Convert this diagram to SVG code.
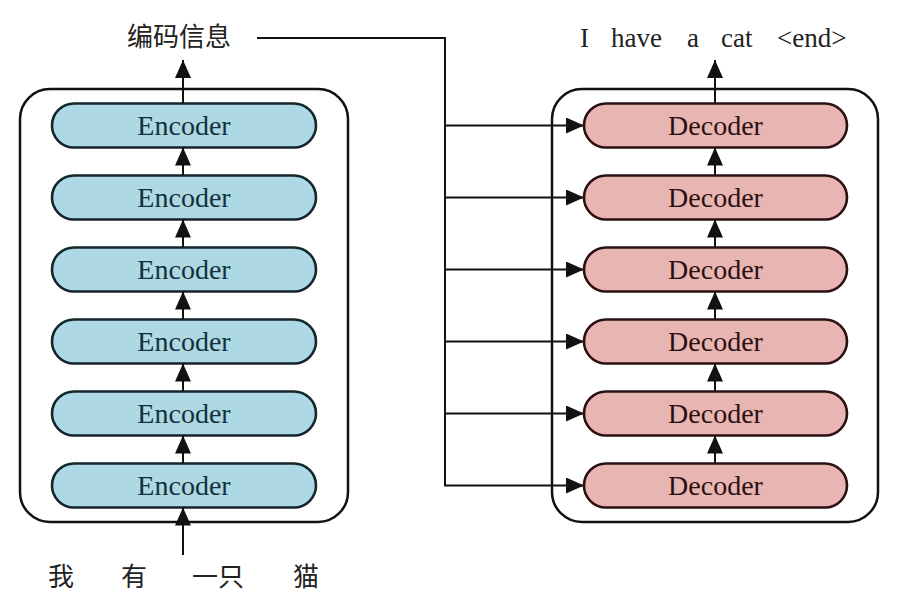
<svg xmlns="http://www.w3.org/2000/svg" width="904" height="605" viewBox="0 0 904 605">
<style>
.frame{fill:#fff;stroke:#111;stroke-width:2.5}
.enc{fill:#add8e4;stroke:#15252b;stroke-width:2.6}
.dec{fill:#e8b5b3;stroke:#2a1212;stroke-width:2.6}
.lbl{font-family:"Liberation Serif","Times New Roman",serif;font-size:28px;text-anchor:middle}
.et{fill:#12313a}
.dt{fill:#2a1010}
.cjk{font-family:"Noto Sans CJK SC","Noto Sans",sans-serif;font-size:26px;fill:#222}
.en{font-family:"Liberation Serif","Times New Roman",serif;font-size:27px;fill:#222}
.ln{fill:none;stroke:#111;stroke-width:2}
</style>
<defs>
<marker id="ah" markerUnits="userSpaceOnUse" markerWidth="20" markerHeight="16" viewBox="0 0 18 16" refX="18" refY="8" orient="auto">
<path d="M0,0 L18,8 L0,16 Z" fill="#111"/>
</marker>
</defs>
<rect width="904" height="605" fill="#fff"/>
<g id="encoder-stack">
<rect class="frame" x="20" y="89" width="328" height="433" rx="30"/>
</g>
<g id="decoder-stack">
<rect class="frame" x="552" y="89" width="326" height="433" rx="30"/>
</g>
<g id="encoders">
<g id="enc1"><rect class="enc" x="52" y="103.5" width="264" height="44" rx="22"/><text class="lbl et" x="184" y="134.5">Encoder</text></g>
<g id="enc2"><rect class="enc" x="52" y="175.5" width="264" height="44" rx="22"/><text class="lbl et" x="184" y="206.5">Encoder</text></g>
<g id="enc3"><rect class="enc" x="52" y="247.5" width="264" height="44" rx="22"/><text class="lbl et" x="184" y="278.5">Encoder</text></g>
<g id="enc4"><rect class="enc" x="52" y="319.5" width="264" height="44" rx="22"/><text class="lbl et" x="184" y="350.5">Encoder</text></g>
<g id="enc5"><rect class="enc" x="52" y="391.5" width="264" height="44" rx="22"/><text class="lbl et" x="184" y="422.5">Encoder</text></g>
<g id="enc6"><rect class="enc" x="52" y="463.5" width="264" height="44" rx="22"/><text class="lbl et" x="184" y="494.5">Encoder</text></g>
</g>
<g id="decoders">
<g id="dec1"><rect class="dec" x="584" y="103.5" width="263" height="44" rx="22"/><text class="lbl dt" x="715.5" y="134.5">Decoder</text></g>
<g id="dec2"><rect class="dec" x="584" y="175.5" width="263" height="44" rx="22"/><text class="lbl dt" x="715.5" y="206.5">Decoder</text></g>
<g id="dec3"><rect class="dec" x="584" y="247.5" width="263" height="44" rx="22"/><text class="lbl dt" x="715.5" y="278.5">Decoder</text></g>
<g id="dec4"><rect class="dec" x="584" y="319.5" width="263" height="44" rx="22"/><text class="lbl dt" x="715.5" y="350.5">Decoder</text></g>
<g id="dec5"><rect class="dec" x="584" y="391.5" width="263" height="44" rx="22"/><text class="lbl dt" x="715.5" y="422.5">Decoder</text></g>
<g id="dec6"><rect class="dec" x="584" y="463.5" width="263" height="44" rx="22"/><text class="lbl dt" x="715.5" y="494.5">Decoder</text></g>
</g>
<g id="labels">
<text id="enc-info" class="cjk" x="127" y="46">编码信息</text>
<text id="output" class="en" y="47"><tspan x="580">I</tspan><tspan x="611">have</tspan><tspan x="687">a</tspan><tspan x="721">cat</tspan><tspan x="777">&lt;end&gt;</tspan></text>
<text id="input" class="cjk" y="586"><tspan x="48">我</tspan><tspan x="121">有</tspan><tspan x="192">一只</tspan><tspan x="293">猫</tspan></text>
</g>
<g id="connectors">
<line class="ln" x1="183" y1="103.5" x2="183" y2="60" marker-end="url(#ah)"/>
<line class="ln" x1="183" y1="175.5" x2="183" y2="147.5" marker-end="url(#ah)"/>
<line class="ln" x1="183" y1="247.5" x2="183" y2="219.5" marker-end="url(#ah)"/>
<line class="ln" x1="183" y1="319.5" x2="183" y2="291.5" marker-end="url(#ah)"/>
<line class="ln" x1="183" y1="391.5" x2="183" y2="363.5" marker-end="url(#ah)"/>
<line class="ln" x1="183" y1="463.5" x2="183" y2="435.5" marker-end="url(#ah)"/>
<line class="ln" x1="183" y1="555" x2="183" y2="507.5" marker-end="url(#ah)"/>
<line class="ln" x1="715" y1="103.5" x2="715" y2="60" marker-end="url(#ah)"/>
<line class="ln" x1="715" y1="175.5" x2="715" y2="147.5" marker-end="url(#ah)"/>
<line class="ln" x1="715" y1="247.5" x2="715" y2="219.5" marker-end="url(#ah)"/>
<line class="ln" x1="715" y1="319.5" x2="715" y2="291.5" marker-end="url(#ah)"/>
<line class="ln" x1="715" y1="391.5" x2="715" y2="363.5" marker-end="url(#ah)"/>
<line class="ln" x1="715" y1="463.5" x2="715" y2="435.5" marker-end="url(#ah)"/>
<path class="ln" d="M257,38 H445 V485.5"/>
<line class="ln" x1="445" y1="125.5" x2="584" y2="125.5" marker-end="url(#ah)"/>
<line class="ln" x1="445" y1="197.5" x2="584" y2="197.5" marker-end="url(#ah)"/>
<line class="ln" x1="445" y1="269.5" x2="584" y2="269.5" marker-end="url(#ah)"/>
<line class="ln" x1="445" y1="341.5" x2="584" y2="341.5" marker-end="url(#ah)"/>
<line class="ln" x1="445" y1="413.5" x2="584" y2="413.5" marker-end="url(#ah)"/>
<line class="ln" x1="444" y1="485.5" x2="584" y2="485.5" marker-end="url(#ah)"/>
</g>
</svg>
